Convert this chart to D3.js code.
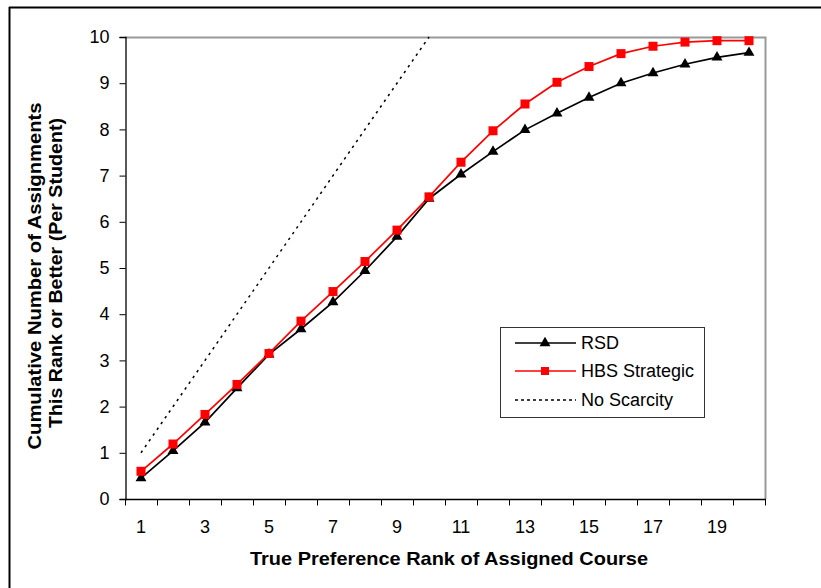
<!DOCTYPE html>
<html>
<head>
<meta charset="utf-8">
<script src="https://cdn.jsdelivr.net/npm/d3@7"></script>
<style>
body { margin: 0; background: #fff; }
svg { display: block; font-family: Arial, "Liberation Sans", sans-serif; }
</style>
</head>
<body>
<div id="chart"></div>
<script>
// data
var ranks = d3.range(1, 21);
var rsd = [0.45, 1.04, 1.66, 2.40, 3.13, 3.68, 4.26, 4.94, 5.68, 6.50,
	7.03, 7.52, 7.99, 8.35, 8.69, 9.00, 9.22, 9.41, 9.56, 9.66];
var hbs = [0.60, 1.19, 1.83, 2.48, 3.15, 3.85, 4.49, 5.14, 5.82, 6.54,
	7.29, 7.97, 8.55, 9.02, 9.36, 9.64, 9.80, 9.89, 9.92, 9.92];
var noScarcityX = [1, 10];
var noScarcityY = [1, 10];
var yTicks = [0, 1, 2, 3, 4, 5, 6, 7, 8, 9, 10];
var xLabels = [1, 3, 5, 7, 9, 11, 13, 15, 17, 19];
var legendNames = ["RSD", "HBS Strategic", "No Scarcity"];

function drawChart() {
	var width = 821;
	var height = 588;
	var pLeft = 125, pRight = 765, pTop = 37, pBottom = 499;

	var svg = d3.select("#chart")
		.append("svg")
		.attr("width", width)
		.attr("height", height);

	// outer frame (only top and left visible)
	svg.append("line").attr("x1", 9).attr("y1", 7.5).attr("x2", width).attr("y2", 7.5)
		.style("stroke", "#000").style("stroke-width", 2);
	svg.append("line").attr("x1", 9.5).attr("y1", 7).attr("x2", 9.5).attr("y2", height)
		.style("stroke", "#000").style("stroke-width", 2);

	// category axis, ticks between categories like excel
	var x = d3.scaleBand()
		.domain(ranks)
		.range([pLeft, pRight]);
	var xc = function(d) { return x(d) + x.bandwidth()/2; };

	var y = d3.scaleLinear()
		.domain([0, 10])
		.range([pBottom, pTop]);

	// plot area border (grey top/right)
	svg.append("path")
		.attr("d", "M" + pLeft + "," + (pTop + 0.5) + "H" + (pRight + 0.5) + "V" + pBottom)
		.style("fill", "none")
		.style("stroke", "#999")
		.style("stroke-width", 2);

	// y axis
	var yAxis = d3.axisLeft(y)
		.tickValues(yTicks)
		.tickSize(6)
		.tickPadding(10)
		.tickFormat(d3.format("d"));
	var gy = svg.append("g")
		.attr("transform", "translate(" + (pLeft + 0.5) + ",0)")
		.call(yAxis);
	gy.select(".domain").style("stroke", "#000").style("stroke-width", 1.3);
	gy.selectAll("line").style("stroke", "#000");
	gy.selectAll("text").style("font-size", "18px").style("fill", "#000")
		.attr("font-family", "Arial, 'Liberation Sans', sans-serif");

	// x axis: ticks at band edges
	var gx = svg.append("g").attr("transform", "translate(0," + (pBottom + 0.5) + ")");
	gx.append("line")
		.attr("x1", pLeft).attr("x2", pRight + 1)
		.style("stroke", "#000").style("stroke-width", 1.3);
	var edges = ranks.map(function(d) { return x(d); }).concat([pRight]);
	gx.selectAll(".tk")
		.data(edges)
		.enter()
		.append("line")
		.attr("class", "tk")
		.attr("x1", d => Math.round(d) + 0.5)
		.attr("x2", d => Math.round(d) + 0.5)
		.attr("y1", 0)
		.attr("y2", 6)
		.style("stroke", "#000");
	gx.selectAll(".lbl")
		.data(xLabels)
		.enter()
		.append("text")
		.attr("class", "lbl")
		.attr("x", d => xc(d))
		.attr("y", 33.5)
		.attr("text-anchor", "middle")
		.style("font-size", "18px")
		.text(d => d);

	// axis titles
	svg.append("text")
		.attr("x", 449)
		.attr("y", 565)
		.attr("text-anchor", "middle")
		.attr("textLength", 398)
		.attr("lengthAdjust", "spacingAndGlyphs")
		.style("font-size", "19px")
		.style("font-weight", "bold")
		.text("True Preference Rank of Assigned Course");

	var ty = svg.append("text")
		.attr("transform", "translate(0,276) rotate(-90)")
		.attr("text-anchor", "middle")
		.style("font-size", "19px")
		.style("font-weight", "bold");
	ty.append("tspan").attr("x", 0).attr("y", 41)
		.attr("textLength", 347).attr("lengthAdjust", "spacingAndGlyphs")
		.text("Cumulative Number of Assignments");
	ty.append("tspan").attr("x", 3).attr("y", 62)
		.attr("textLength", 310).attr("lengthAdjust", "spacingAndGlyphs")
		.text("This Rank or Better (Per Student)");

	// no scarcity dotted line
	var line = d3.line()
		.x(d => xc(d[0]))
		.y(d => y(d[1]));

	svg.append("path")
		.datum(noScarcityX.map((d, i) => [d, noScarcityY[i]]))
		.attr("d", line)
		.style("fill", "none")
		.style("stroke", "#000")
		.style("stroke-width", 1.5)
		.style("stroke-dasharray", "2.5,4.5");

	// RSD
	svg.append("path")
		.datum(ranks.map((d, i) => [d, rsd[i]]))
		.attr("d", line)
		.style("fill", "none")
		.style("stroke", "#000")
		.style("stroke-width", 1.7);

	// HBS
	svg.append("path")
		.datum(ranks.map((d, i) => [d, hbs[i]]))
		.attr("d", line)
		.style("fill", "none")
		.style("stroke", "#ff0000")
		.style("stroke-width", 1.7);

	var tri = d3.symbol().type(d3.symbolTriangle).size(52);

	svg.selectAll(".rsdpt")
		.data(ranks.map((d, i) => [d, rsd[i]]))
		.enter()
		.append("path")
		.attr("class", "rsdpt")
		.attr("transform", d => "translate(" + xc(d[0]) + "," + y(d[1]) + ")")
		.attr("d", tri)
		.style("fill", "#000");

	svg.selectAll(".hbspt")
		.data(ranks.map((d, i) => [d, hbs[i]]))
		.enter()
		.append("rect")
		.attr("class", "hbspt")
		.attr("x", d => xc(d[0]) - 4.5)
		.attr("y", d => y(d[1]) - 4.5)
		.attr("width", 9)
		.attr("height", 9)
		.style("fill", "#ff0000");

	// legend
	var lg = svg.append("g").attr("transform", "translate(500,327)");
	lg.append("rect")
		.attr("x", 0.5).attr("y", 0.5)
		.attr("width", 204).attr("height", 90)
		.style("fill", "#fff")
		.style("stroke", "#333")
		.style("stroke-width", 1);

	var rowY = [16, 44, 73];
	lg.append("line").attr("x1", 15).attr("x2", 76).attr("y1", rowY[0]).attr("y2", rowY[0])
		.style("stroke", "#000").style("stroke-width", 1.3);
	lg.append("path").attr("transform", "translate(45," + rowY[0] + ")").attr("d", tri).style("fill", "#000");
	lg.append("line").attr("x1", 15).attr("x2", 76).attr("y1", rowY[1]).attr("y2", rowY[1])
		.style("stroke", "#ff0000").style("stroke-width", 1.3);
	lg.append("rect").attr("x", 41).attr("y", rowY[1] - 4).attr("width", 8).attr("height", 8)
		.style("fill", "#ff0000");
	lg.append("line").attr("x1", 15).attr("x2", 76).attr("y1", rowY[2]).attr("y2", rowY[2])
		.style("stroke", "#000").style("stroke-width", 1.3).style("stroke-dasharray", "3,3");

	lg.selectAll(".ltxt")
		.data(legendNames)
		.enter()
		.append("text")
		.attr("class", "ltxt")
		.attr("x", 81)
		.attr("y", (d, i) => rowY[i] + 6)
		.style("font-size", "18px")
		.text(d => d);

	return svg.node();
}

drawChart();
</script>
</body>
</html>
